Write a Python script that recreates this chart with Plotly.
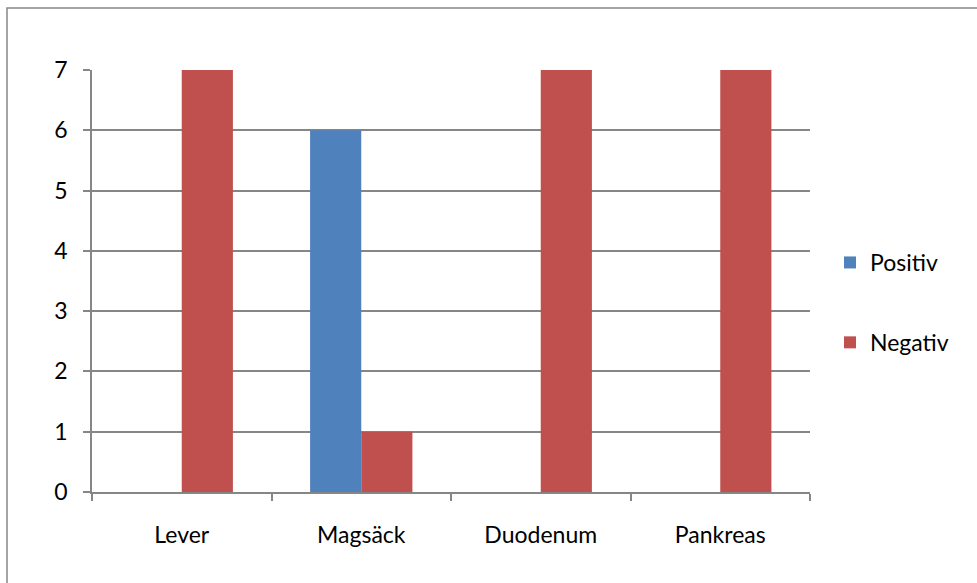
import plotly.graph_objects as go

categories = ["Lever", "Magsäck", "Duodenum", "Pankreas"]
positiv = [0, 6, 0, 0]
negativ = [7, 1, 7, 7]
y_ticks = [0, 1, 2, 3, 4, 5, 6, 7]

L, R, T, B = 92, 167, 70, 91
W, H = 977, 583
pw, ph = W - L - R, H - T - B

fig = go.Figure()
fig.add_trace(go.Bar(x=categories, y=positiv, name="Positiv", marker_color="#4F81BD",
                     marker_line_width=0, legendgroup="a"))
fig.add_trace(go.Bar(x=categories, y=negativ, name="Negativ", marker_color="#C0504D",
                     marker_line_width=0, legendgroup="b"))

gray = "#868686"
fig.update_layout(
    width=W, height=H,
    margin=dict(l=L, r=R, t=T, b=B, autoexpand=False),
    paper_bgcolor="white", plot_bgcolor="white",
    barmode="group", bargap=0.43, bargroupgap=0,
    font=dict(family="Lato, Carlito, sans-serif", size=23, color="black"),
    legend=dict(x=(830 - L) / pw, y=(492 - 241) / ph, xanchor="left", yanchor="top",
                tracegroupgap=47, font=dict(size=23), itemwidth=30,
                bgcolor="rgba(0,0,0,0)"),
    xaxis=dict(showline=True, linecolor=gray, linewidth=1.5, ticks="outside",
               tickson="boundaries", ticklen=7, tickcolor=gray, tickwidth=1.5,
               ticklabelstandoff=22, showgrid=False),
    yaxis=dict(range=[0, 7], tickvals=y_ticks, showline=True, linecolor=gray, linewidth=1.5,
               ticks="outside", ticklen=7, tickcolor=gray, tickwidth=1.5,
               showgrid=True, gridcolor=gray, gridwidth=1.5, zeroline=False,
               ticklabelstandoff=11),
    shapes=[dict(type="rect", xref="paper", yref="paper",
                 x0=(7 - L) / pw, x1=(990 - L) / pw,
                 y0=(492 - 600) / ph, y1=(492 - 8) / ph,
                 line=dict(color=gray, width=1.5), layer="below")],
)

fig.write_html("out.html")
